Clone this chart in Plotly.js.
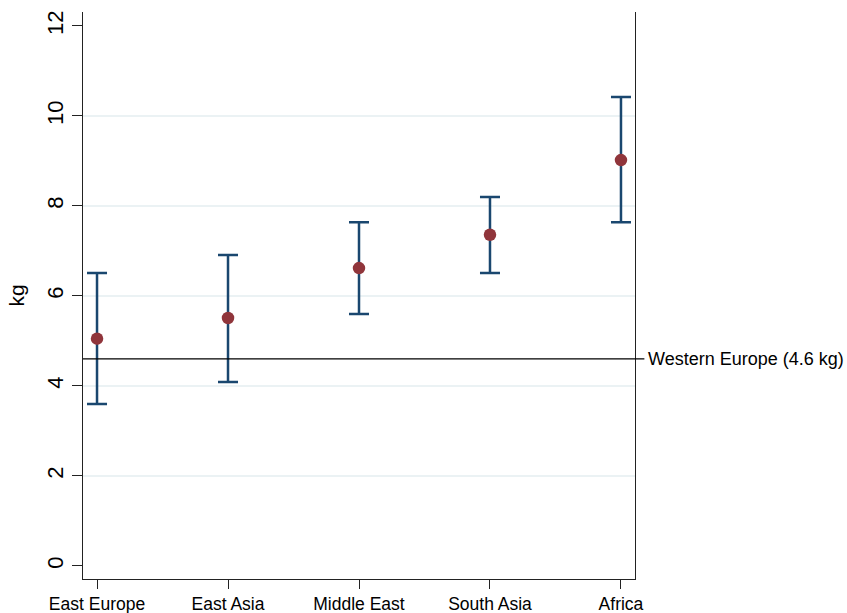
<!DOCTYPE html>
<html>
<head>
<meta charset="utf-8">
<script src="https://cdn.plot.ly/plotly-3.0.1.min.js"></script>
<style>html,body{margin:0;padding:0;background:#fff;}#chart{width:847px;height:613px;}</style>
</head>
<body>
<div id="chart"></div>
<script>
// Data
var regions = ["East Europe", "East Asia", "Middle East", "South Asia", "Africa"];
var meanKg  = [5.05, 5.51, 6.62, 7.36, 9.02];
var lowerKg = [3.60, 4.09, 5.60, 6.51, 7.64];
var upperKg = [6.51, 6.91, 7.64, 8.20, 10.42];
var westernEuropeKg = 4.6;
var westernEuropeLabel = "Western Europe (4.6 kg)";
var yTickVals = [0, 2, 4, 6, 8, 10, 12];
var gridVals = [2, 4, 6, 8, 10];

var xIdx = regions.map(function(_, i){ return i; });
var errPlus = upperKg.map(function(u, i){ return u - meanKg[i]; });
var errMinus = lowerKg.map(function(l, i){ return meanKg[i] - l; });

var font = "Liberation Sans, Arial, sans-serif";

var trace = {
  type: "scatter",
  mode: "markers",
  x: xIdx,
  y: meanKg,
  marker: {color: "#90353b", size: 12.5},
  error_y: {
    type: "data", symmetric: false,
    array: errPlus, arrayminus: errMinus,
    color: "#1a476f", thickness: 2.5, width: 10
  },
  hoverinfo: "skip",
  showlegend: false
};

var shapes = gridVals.map(function(v){
  return {type: "line", xref: "paper", yref: "y", x0: 0, x1: 1, y0: v, y1: v,
          line: {color: "#e4eef0", width: 1.5}, layer: "below"};
});
shapes.push({type: "line", xref: "paper", yref: "y", x0: 0, x1: 1.017,
             y0: westernEuropeKg, y1: westernEuropeKg,
             line: {color: "#000", width: 1.2}, layer: "above"});

var layout = {
  width: 847, height: 613,
  margin: {l: 83, r: 212, t: 12, b: 34},
  paper_bgcolor: "#fff", plot_bgcolor: "#fff",
  font: {family: font, size: 17.5, color: "#000"},
  xaxis: {
    range: [-0.107, 4.107],
    tickvals: xIdx, ticktext: regions,
    showgrid: false, zeroline: false,
    showline: true, linecolor: "#222", linewidth: 1.2,
    ticks: "outside", ticklen: 9, tickcolor: "#222", tickwidth: 1,
    tickfont: {family: font, size: 17.5, color: "#000"}
  },
  yaxis: {
    range: [-0.29, 12.31],
    tickvals: yTickVals, ticktext: yTickVals.map(String),
    tickangle: -90,
    showgrid: false, zeroline: false,
    showline: true, mirror: true, linecolor: "#222", linewidth: 1.2,
    ticks: "outside", ticklen: 10, tickcolor: "#222", tickwidth: 1,
    tickfont: {family: font, size: 22, color: "#000"},
    title: {text: "kg", font: {family: font, size: 21, color: "#000"}, standoff: 12}
  },
  shapes: shapes,
  annotations: [{
    xref: "paper", yref: "y", x: 1.02, y: westernEuropeKg,
    xanchor: "left", yanchor: "middle", showarrow: false,
    text: westernEuropeLabel,
    font: {family: font, size: 18, color: "#000"}
  }]
};

Plotly.newPlot("chart", [trace], layout, {displayModeBar: false, staticPlot: true});
</script>
</body>
</html>
